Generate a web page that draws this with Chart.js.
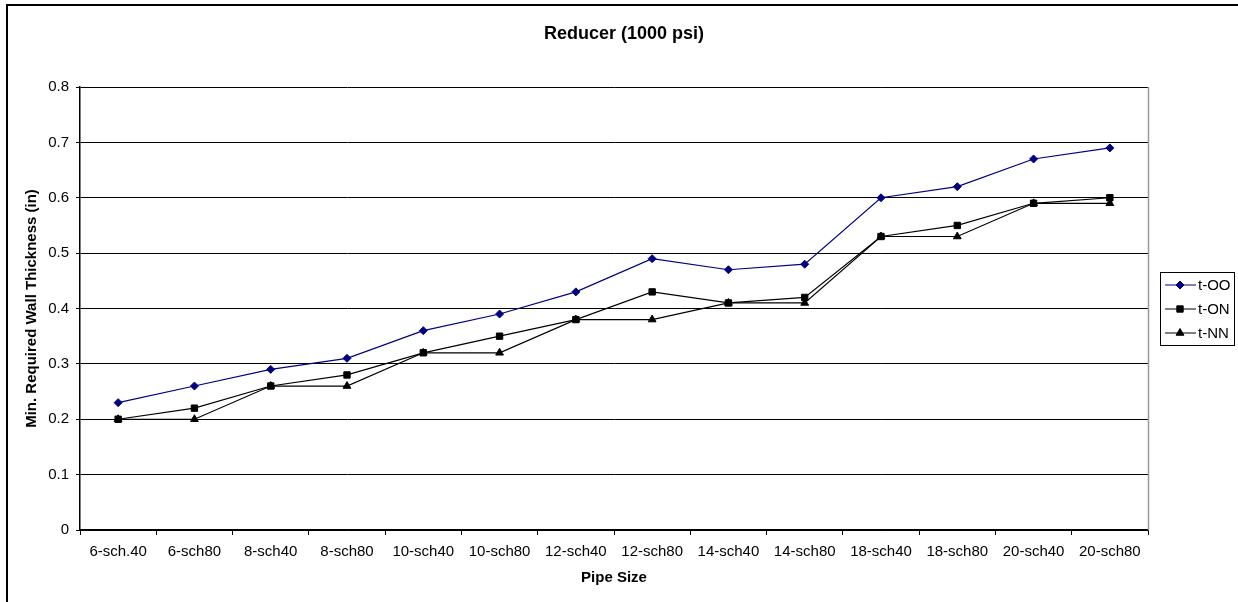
<!DOCTYPE html>
<html>
<head>
<meta charset="utf-8">
<script src="https://cdn.jsdelivr.net/npm/chart.js@4"></script>
<style>
    html, body { margin: 0; padding: 0; background: #ffffff; }
    #wrap { width: 1238px; height: 602px; }
</style>
</head>
<body>
<div id="wrap"><canvas id="reducerChart" width="1238" height="602"></canvas></div>
<script>
    const pipeSizes = ['6-sch.40', '6-sch80', '8-sch40', '8-sch80', '10-sch40', '10-sch80', '12-sch40',
        '12-sch80', '14-sch40', '14-sch80', '18-sch40', '18-sch80', '20-sch40', '20-sch80'];
    const tOO = [0.23, 0.26, 0.29, 0.31, 0.36, 0.39, 0.43, 0.49, 0.47, 0.48, 0.60, 0.62, 0.67, 0.69];
    const tON = [0.20, 0.22, 0.26, 0.28, 0.32, 0.35, 0.38, 0.43, 0.41, 0.42, 0.53, 0.55, 0.59, 0.60];
    const tNN = [0.20, 0.20, 0.26, 0.26, 0.32, 0.32, 0.38, 0.38, 0.41, 0.41, 0.53, 0.53, 0.59, 0.59];
    const seriesNames = ['t-OO', 't-ON', 't-NN'];
    const chartTitle = 'Reducer (1000 psi)';
    const xTitle = 'Pipe Size';
    const yTitle = 'Min. Required Wall Thickness (in)';

    const fontFamily = '"Liberation Sans", Arial, sans-serif';
    const navy = '#000080';

    // title, legend box, outer frame and grey plot edge, drawn like the Excel original
    const excelFrame = {
        id: 'excelFrame',
        afterDraw(chart) {
            const ctx = chart.ctx;
            const area = chart.chartArea;
            ctx.save();

            ctx.strokeStyle = '#000';
            ctx.lineWidth = 2;
            ctx.beginPath();
            ctx.moveTo(7, chart.height);
            ctx.lineTo(7, 5);
            ctx.lineTo(chart.width, 5);
            ctx.stroke();

            ctx.strokeStyle = '#9a9a9a';
            ctx.lineWidth = 1.5;
            ctx.beginPath();
            ctx.moveTo(area.right + 0.5, area.top);
            ctx.lineTo(area.right + 0.5, area.bottom);
            ctx.stroke();

            ctx.fillStyle = '#000';
            ctx.font = 'bold 18px ' + fontFamily;
            ctx.textAlign = 'center';
            ctx.textBaseline = 'middle';
            ctx.fillText(chartTitle, 624, 34);

            // legend
            const box = { x: 1160.5, y: 272.5, w: 74, h: 73 };
            ctx.strokeStyle = '#000';
            ctx.lineWidth = 1;
            ctx.strokeRect(box.x, box.y, box.w, box.h);
            ctx.font = '15px ' + fontFamily;
            ctx.textAlign = 'left';
            chart.data.datasets.forEach((ds, i) => {
                const y = 285 + i * 24;
                ctx.strokeStyle = ds.borderColor;
                ctx.lineWidth = 1;
                ctx.beginPath();
                ctx.moveTo(1165, y);
                ctx.lineTo(1196, y);
                ctx.stroke();
                ctx.fillStyle = ds.pointBackgroundColor;
                ctx.strokeStyle = ds.pointBorderColor;
                Chart.helpers.drawPoint(ctx, {
                    pointStyle: ds.pointStyle,
                    radius: ds.pointRadius,
                    borderWidth: 1,
                    rotation: 0
                }, 1180, y);
                ctx.fillStyle = '#000';
                ctx.fillText(ds.label, 1198, y + 1);
            });
            ctx.restore();
        }
    };

    new Chart(document.getElementById('reducerChart'), {
        type: 'line',
        data: {
            labels: pipeSizes,
            datasets: [
                {
                    label: seriesNames[0],
                    data: tOO,
                    borderColor: navy,
                    backgroundColor: navy,
                    pointBackgroundColor: navy,
                    pointBorderColor: navy,
                    pointStyle: 'rectRot',
                    pointRadius: 4,
                    borderWidth: 1.2,
                    order: 3
                },
                {
                    label: seriesNames[1],
                    data: tON,
                    borderColor: '#000',
                    backgroundColor: '#000',
                    pointBackgroundColor: '#000',
                    pointBorderColor: '#000',
                    pointStyle: 'rect',
                    pointRadius: 4.5,
                    borderWidth: 1.2,
                    order: 2
                },
                {
                    label: seriesNames[2],
                    data: tNN,
                    borderColor: '#000',
                    backgroundColor: '#000',
                    pointBackgroundColor: '#000',
                    pointBorderColor: '#000',
                    pointStyle: 'triangle',
                    pointRadius: 4.5,
                    borderWidth: 1.2,
                    order: 1
                }
            ]
        },
        options: {
            responsive: false,
            animation: false,
            devicePixelRatio: 1,
            layout: { padding: { top: 87, right: 90, bottom: 0, left: 0 } },
            elements: {
                line: { tension: 0, fill: false },
                point: { pointBorderWidth: 1 }
            },
            plugins: {
                legend: { display: false },
                title: { display: false },
                tooltip: { enabled: false }
            },
            scales: {
                x: {
                    type: 'category',
                    offset: true,
                    afterFit(scale) { scale.height = 72; },
                    grid: {
                        offset: true,
                        drawOnChartArea: false,
                        drawTicks: true,
                        tickLength: 5,
                        color: '#000',
                        lineWidth: 1
                    },
                    border: { color: '#000', width: 1.5 },
                    ticks: {
                        color: '#000',
                        padding: 8,
                        maxRotation: 0,
                        autoSkip: false,
                        font: { family: fontFamily, size: 15 }
                    },
                    title: {
                        display: true,
                        text: xTitle,
                        color: '#000',
                        padding: { top: 0, bottom: 15 },
                        font: { family: fontFamily, size: 15, weight: 'bold' }
                    }
                },
                y: {
                    min: 0,
                    max: 0.8,
                    afterFit(scale) { scale.width = 80; },
                    grid: {
                        color: '#000',
                        lineWidth: 1,
                        drawTicks: true,
                        tickLength: 4
                    },
                    border: { color: '#000', width: 1.5 },
                    ticks: {
                        stepSize: 0.1,
                        color: '#000',
                        padding: 7,
                        font: { family: fontFamily, size: 15 },
                        callback: value => Number(value.toFixed(1)).toString()
                    },
                    title: {
                        display: true,
                        text: yTitle,
                        color: '#000',
                        padding: { top: 23, bottom: 0 },
                        font: { family: fontFamily, size: 15, weight: 'bold' }
                    }
                }
            }
        },
        plugins: [excelFrame]
    });
</script>
</body>
</html>
